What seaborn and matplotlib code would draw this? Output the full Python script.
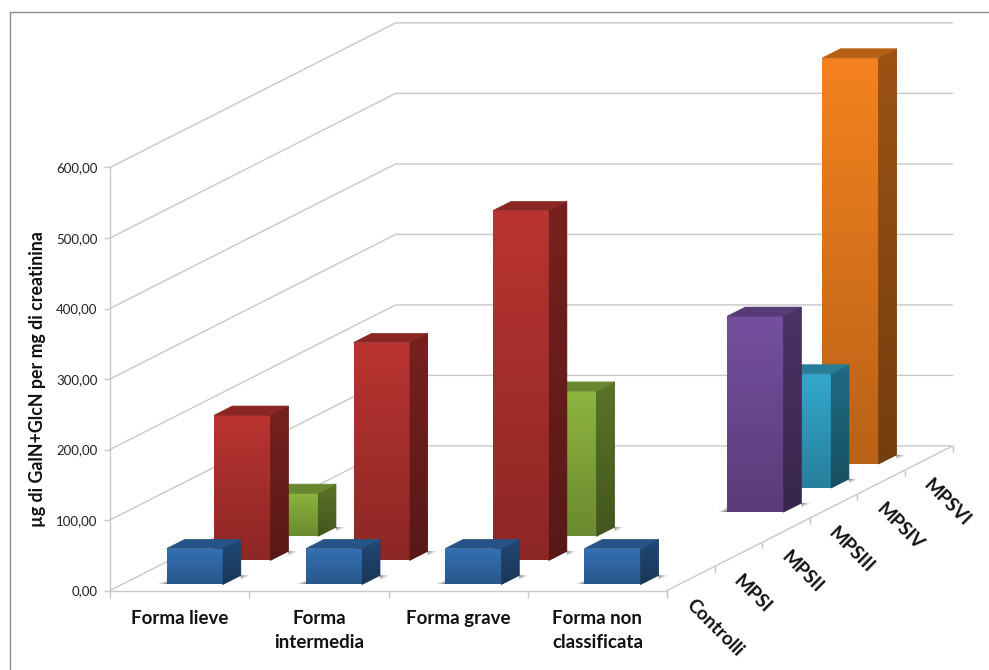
import numpy as np
import pandas as pd
import seaborn as sns
import matplotlib
matplotlib.use("Agg")
import matplotlib.pyplot as plt
from matplotlib.lines import Line2D
from matplotlib.patches import Polygon
from matplotlib.ticker import FuncFormatter, FixedLocator, NullFormatter

forms = ["Forma lieve", "Forma\nintermedia", "Forma grave", "Forma non\nclassificata"]
groups = ["Controlli", "MPSI", "MPSII", "MPSIII", "MPSIV", "MPSVI"]
group_colors = ["#3572B6", "#BA3431", "#8EB63F", "#7650A0", "#33A9CE", "#F5821F"]

controlli = [51, 51, 51, 51]
mpsi = [206, 309, 496]
mpsii = [61, 206]
mpsiii = [278]
mpsiv = [162]
mpsvi = [576]

records = (
    [("Controlli", i, v) for i, v in enumerate(controlli)]
    + [("MPSI", i, v) for i, v in enumerate(mpsi)]
    + [("MPSII", i, v) for i, v in zip([0, 2], mpsii)]
    + [("MPSIII", 3, mpsiii[0]), ("MPSIV", 3, mpsiv[0]), ("MPSVI", 3, mpsvi[0])]
)
df = pd.DataFrame(records, columns=["group", "form", "value"])
df["pos"] = df["form"] + 0.523

# One depth step of the oblique view, in x-category and value units
STEP_X = 47.6 / 139.25
STEP_Y = 24.1 / 0.705
BAR_DEPTH = 0.378
BAR_START = 0.25
N_DEPTH = len(groups)


def project(x, v, d):
    return (x + STEP_X * d, v + STEP_Y * d)


def shade(color, k):
    rgb = np.array(matplotlib.colors.to_rgb(color))
    return rgb * k


sns.set_theme(style="white", rc={"font.family": ["Lato", "DejaVu Sans"]})
plt.rcParams["font.family"] = ["Lato", "DejaVu Sans"]

W, H = 989, 670
fig = plt.figure(figsize=(W / 100, H / 100), dpi=100)
ax = fig.add_axes([110 / W, 1 - 590.5 / H, 557 / W, 423 / H])
ax.patch.set_visible(False)

sns.barplot(
    data=df, x="pos", y="value", hue="group", hue_order=groups,
    palette=group_colors, native_scale=True, dodge=False, width=0.402,
    legend=False, saturation=1, ax=ax,
)


def gradient_fill(poly, top, bottom, z, ext):
    """Paint a vertical colour ramp clipped to a polygon."""
    t = np.linspace(0, 1, 128)[:, None, None]
    grad = top * (1 - t) + bottom * t
    pad_x, pad_y = 0.02, 3
    im = ax.imshow(grad, extent=(ext[0] - pad_x, ext[1] + pad_x, ext[2] - pad_y, ext[3] + pad_y),
                   aspect="auto", origin="upper", interpolation="bilinear", zorder=z)
    im.set_clip_box(fig.bbox)
    im.set_clip_path(poly)


GRID = "#C8C8C8"
ticks = np.arange(0, 601, 100)

# Side wall and back wall gridlines, plus the floor edges
for v in ticks:
    p0, p1, p2 = project(0, v, 0), project(0, v, N_DEPTH), project(4, v, N_DEPTH)
    ax.plot([p0[0], p1[0], p2[0]], [p0[1], p1[1], p2[1]], color=GRID, lw=1,
            clip_on=False, zorder=1)
f0, f1 = project(4, 0, 0), project(4, 0, N_DEPTH)
ax.plot([f0[0], f1[0]], [f0[1], f1[1]], color=GRID, lw=1, clip_on=False, zorder=1)

# Depth axis ticks and labels
for d, name in enumerate(list(groups) + [None]):
    a = project(4, 0, d)
    ax.plot([a[0], a[0]], [a[1], a[1] - 8], color=GRID, lw=1, clip_on=False, zorder=1)
    if name is not None:
        c = project(4, 0, d + 0.5)
        ax.annotate(name, xy=c, xytext=(-2, -24), textcoords="offset pixels",
                    rotation=-45, rotation_mode="anchor", ha="left", va="center",
                    fontsize=13.5, fontweight="bold", color="#111111",
                    annotation_clip=False)

# Turn each flat bar into a prism at its depth row
for d, container in enumerate(ax.containers):
    base = group_colors[d]
    z = 20 + (N_DEPTH - d) * 5
    for bar in container:
        x0, w, h = bar.get_x(), bar.get_width(), bar.get_height()
        ax_front = project(x0, 0, d + BAR_START)
        xl = ax_front[0]
        x1 = xl + w
        y0 = ax_front[1]
        y1 = y0 + h
        sx, sy = STEP_X * BAR_DEPTH, STEP_Y * BAR_DEPTH

        bar.set_x(xl)
        bar.set_y(y0)
        bar.set_linewidth(0)
        bar.set_zorder(z)
        bar.set_clip_on(False)

        # Soft contact shadows left of the front edge and right of the rear edge
        for grow, alpha in [(1.0, 0.08), (0.8, 0.1), (0.6, 0.14), (0.4, 0.18), (0.2, 0.2)]:
            gx, gy = 0.07 * grow, 7 * grow
            left_shadow = Polygon([(xl - gx, y0), (xl, y0), (xl, y0 + gy)],
                                  closed=True, fc="black", ec="none", alpha=alpha,
                                  clip_on=False, zorder=z - 1)
            right_shadow = Polygon([(x1 + sx, y0 + sy), (x1 + sx + gx, y0 + sy),
                                    (x1 + sx, y0 + sy - gy)],
                                   closed=True, fc="black", ec="none", alpha=alpha,
                                   clip_on=False, zorder=z - 1)
            ax.add_patch(left_shadow)
            ax.add_patch(right_shadow)

        front = Polygon([(xl, y0), (x1, y0), (x1, y1), (xl, y1)],
                        closed=True, fc="none", ec="none", clip_on=False)
        ax.add_patch(front)
        gradient_fill(front, shade(base, 1.0), shade(base, 0.75), z + 0.1, (xl, x1, y0, y1))

        # Solid underlay closes the hairline seams between neighbouring faces
        side_pts = [(x1, y0), (x1 + sx, y0 + sy), (x1 + sx, y1 + sy), (x1, y1)]
        ax.add_patch(Polygon(side_pts, closed=True, fc=tuple(shade(base, 0.55)),
                             ec=tuple(shade(base, 0.55)), lw=0.6, clip_on=False, zorder=z))
        side = Polygon(side_pts, closed=True, fc="none", ec="none", clip_on=False)
        ax.add_patch(side)
        gradient_fill(side, shade(base, 0.64), shade(base, 0.47), z + 0.2,
                      (x1, x1 + sx, y0, y1 + sy))

        top_color = tuple(shade(base, 0.74))
        top = Polygon([(xl, y1), (x1, y1), (x1 + sx, y1 + sy), (xl + sx, y1 + sy)],
                      closed=True, fc=top_color, ec=top_color, lw=0.5,
                      clip_on=False, zorder=z + 0.3)
        ax.add_patch(top)

ax.set_xlim(0, 4)
ax.set_ylim(0, 600)
ax.set_xlabel("")
ax.set_ylabel("µg di GalN+GlcN per mg di creatinina", fontsize=12.8, fontweight="bold",
              color="#111111", labelpad=7.5)

sns.despine(ax=ax, top=True, right=True)
for sp in ("left", "bottom"):
    ax.spines[sp].set_color(GRID)
    ax.spines[sp].set_linewidth(1)

ax.yaxis.set_major_locator(FixedLocator(ticks))
ax.yaxis.set_major_formatter(FuncFormatter(lambda v, _: f"{v:.2f}".replace(".", ",")))
ax.tick_params(axis="y", which="major", left=True, length=4, width=1, color=GRID,
               labelsize=9.5, labelcolor="#222222", pad=5)

ax.xaxis.set_major_locator(FixedLocator(range(5)))
ax.xaxis.set_major_formatter(NullFormatter())
ax.xaxis.set_minor_locator(FixedLocator(np.arange(4) + 0.5))
ax.set_xticklabels(forms, minor=True, fontsize=13.5, fontweight="bold", color="#111111",
                   linespacing=1.5)
ax.tick_params(axis="x", which="major", bottom=True, length=5, width=1, color=GRID)
ax.tick_params(axis="x", which="minor", bottom=False, pad=10)

# Outer picture frame on the top and left edges
frame = "#8C8C8C"
fig.add_artist(Line2D([9.5 / W, 9.5 / W], [1 - 11.5 / H, 0], color=frame, lw=1))
fig.add_artist(Line2D([9.5 / W, 1], [1 - 11.5 / H, 1 - 11.5 / H], color=frame, lw=1))

fig.savefig("out.png", dpi=100, facecolor="white")
